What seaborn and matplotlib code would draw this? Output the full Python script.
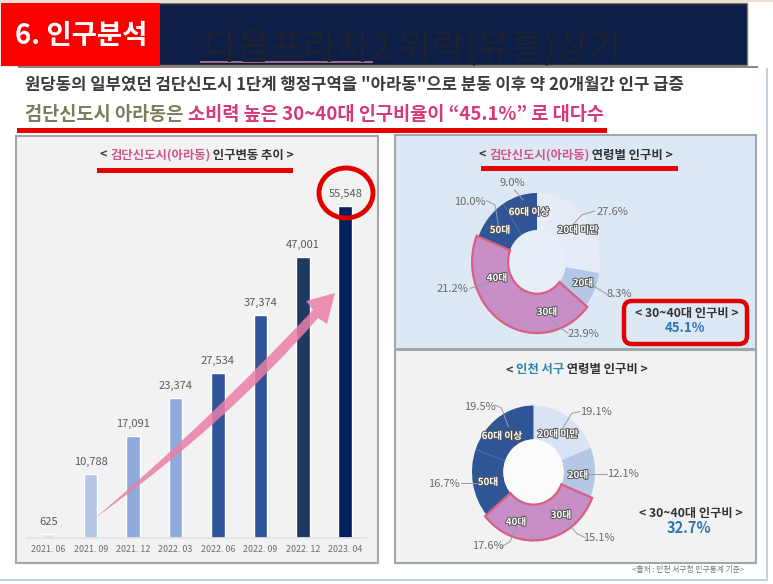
import matplotlib
matplotlib.use("Agg")
import matplotlib.pyplot as plt
import matplotlib.patheffects as pe
from matplotlib.patches import Rectangle, Ellipse, FancyBboxPatch, PathPatch, Wedge, Circle
from matplotlib.path import Path
import pandas as pd
import seaborn as sns

months = ["2021. 06", "2021. 09", "2021. 12", "2022. 03", "2022. 06", "2022. 09", "2022. 12", "2023. 04"]
population = [625, 10788, 17091, 23374, 27534, 37374, 47001, 55548]
bar_colors = ["#dbe5f3", "#b4c7e7", "#8faadc", "#8faadc", "#2f5597", "#2f5597", "#1f3864", "#002060"]

age_groups = ["20대 미만", "20대", "30대", "40대", "50대", "60대 이상"]
arado_share = [27.6, 8.3, 23.9, 21.2, 10.0, 9.0]
seogu_share = [19.1, 12.1, 15.1, 17.6, 16.7, 19.5]
arado_colors = ["#e5ecf6", "#b4c7e7", "#c690c6", "#c690c6", "#2f5597", "#2f5597"]
seogu_colors = ["#dae3f3", "#b4c7e7", "#c690c6", "#c690c6", "#2f5597", "#2f5597"]

sns.set_theme(style="white")
plt.rcParams["font.family"] = ["Noto Sans CJK KR", "DejaVu Sans"]
W, H = 773, 584
fig = plt.figure(figsize=(W / 100, H / 100), dpi=100, facecolor="white")


def box(x0, y0, x1, y1):
    return [x0 / W, 1 - y1 / H, (x1 - x0) / W, (y1 - y0) / H]


bg = fig.add_axes([0, 0, 1, 1], zorder=0)
top = fig.add_axes([0, 0, 1, 1], zorder=5)
for a in (bg, top):
    a.set_xlim(0, W)
    a.set_ylim(H, 0)
    a.axis("off")
    a.patch.set_alpha(0)


def rect(ax, x0, y0, x1, y1, **kw):
    ax.add_patch(Rectangle((x0, y0), x1 - x0, y1 - y0, **kw))


def colored(ax, x, y, parts, size, weight="bold", center=False):
    rend = fig.canvas.get_renderer()
    items = [ax.text(x, y, s, color=c, fontsize=size, fontweight=weight, va="center", ha="left")
             for s, c in parts]
    inv = ax.transData.inverted()
    widths = []
    for t in items:
        b = t.get_window_extent(rend)
        (a0, _), (a1, _) = inv.transform([(b.x0, b.y0), (b.x1, b.y1)])
        widths.append(a1 - a0)
    cx = x - sum(widths) / 2 if center else x
    for t, w in zip(items, widths):
        t.set_x(cx)
        cx += w


# page frame
rect(bg, 0, 0, 773, 2, color="#e9e1d2", lw=0)
rect(bg, 18, 66, 758, 68, color="#8a8a8a", lw=0)
rect(bg, 0, 579, 767, 581, color="#c3d0dd", lw=0)
rect(bg, 766, 68, 768, 581, color="#c3d0dd", lw=0)

# header
rect(bg, 1, 3, 747, 65, facecolor="#0d1f47", edgecolor="#8b7355", lw=1)
bg.text(413, 48, "다옴프라자2 위락(유흥)상가", color="#1c2230", fontsize=26, ha="center", va="center")
rect(bg, 200, 61, 373, 63, color="#a06a80", lw=0)
rect(bg, 1, 3, 160, 66, color="#fb0000", lw=0)
bg.text(81, 36, "6. 인구분석", color="white", fontsize=19.8, fontweight="bold", ha="center", va="center")

# headline
colored(bg, 25, 85, [("원당동의 일부였던 검단신도시 1단계 행정구역을 \"아라동\"으로 분동 이후 약 20개월간 인구 급증", "#3b3b3b")], 12.0)
colored(bg, 25, 115, [("검단신도시 아라동은 ", "#7d7d5c"), ("소비력 높은 30~40대 인구비율이 “45.1%” 로 대다수", "#d63a78")], 13.45)
rect(bg, 17, 128, 607, 133, color="#e60000", lw=0)

# panels
rect(bg, 16, 136, 378, 563, facecolor="#f2f2f2", edgecolor="#a6a6a6", lw=1.5)
rect(bg, 395, 135, 756, 349, facecolor="#dce8f4", edgecolor="#a0a8ad", lw=1.5)
rect(bg, 395, 350, 756, 563, facecolor="#f2f2f2", edgecolor="#a0a8ad", lw=1.5)

# bar chart
ax = fig.add_axes(box(27, 179.4, 366.4, 538), zorder=2)
ax.patch.set_alpha(0)
df = pd.DataFrame({"month": months, "population": population})
sns.barplot(data=df, x="month", y="population", hue="month", palette=bar_colors,
            legend=False, width=0.32, saturation=1, ax=ax)
ax.set_ylim(0, 60000)
ax.set_xlim(-0.5, 7.5)
ax.set_xlabel("")
ax.set_ylabel("")
ax.set_yticks([])
ax.tick_params(axis="x", length=0, pad=5, labelsize=6.4, labelcolor="#6e6e6e")
sns.despine(ax=ax, left=True)
ax.spines["bottom"].set_color("#e2e2e2")
for container in ax.containers:
    ax.bar_label(container, labels=[f"{v:,.0f}" for v in container.datavalues],
                 padding=5, fontsize=8, color="#5a5a5a")

colored(top, 197, 155, [("< ", "#333333"), ("검단신도시(아라동)", "#d0558a"), (" 인구변동 추이 >", "#333333")], 8.9, center=True)
rect(top, 97, 168, 293, 173, color="#e60000", lw=0)
top.add_patch(Ellipse((346, 193), 54, 50, fill=False, edgecolor="#e00000", lw=3.5))

# rising arrow
arrow_verts = [(95, 518), (225, 425), (318, 318), (327, 324), (335, 293), (306, 301), (313, 310),
               (205, 425), (95, 518), (95, 518)]
arrow_codes = [Path.MOVETO, Path.CURVE3, Path.CURVE3, Path.LINETO, Path.LINETO, Path.LINETO,
               Path.LINETO, Path.CURVE3, Path.CURVE3, Path.CLOSEPOLY]
top.add_patch(PathPatch(Path(arrow_verts, arrow_codes), facecolor="#ea7fa8", alpha=0.85, lw=0))


def donut(shares, colors, cx, cy, rx, ry, hole, hole_color):
    a = fig.add_axes(box(cx - rx * 1.1, cy - ry * 1.1, cx + rx * 1.1, cy + ry * 1.1), zorder=2)
    a.pie(shares, colors=colors, startangle=90, counterclock=False, radius=1,
          wedgeprops=dict(width=1 - hole, linewidth=0))
    a.set_aspect("auto")
    a.set_xlim(-1.1, 1.1)
    a.set_ylim(-1.1, 1.1)
    a.add_patch(Circle((0, 0), hole, facecolor=hole_color, lw=0, zorder=1))
    total = sum(shares)
    start = 90 - 360 * sum(shares[:2]) / total
    end = 90 - 360 * sum(shares[:4]) / total
    a.add_patch(Wedge((0, 0), 1.03, end, start, width=1.03 - hole, facecolor="#c78ec7",
                      edgecolor="#d9607f", lw=1.6, zorder=5))
    return a


donut(arado_share, arado_colors, 537, 262, 63, 69, 0.46, "#e6eff8")
donut(seogu_share, seogu_colors, 533.5, 472, 61.5, 66.5, 0.49, "#fbfbfb")


def zoom_pts(ox, oy, pts):
    return [(ox + x / 3, oy + y / 3) for x, y in pts]


def leader(ox, oy, pts, color="#9a9a9a"):
    p = zoom_pts(ox, oy, pts)
    top.plot([q[0] for q in p], [q[1] for q in p], color=color, lw=0.7, zorder=2)


for pts in [[(358, 165), (385, 195)], [(275, 197), (300, 210), (312, 280)],
            [(600, 228), (560, 240), (520, 285)], [(637, 478), (590, 450)],
            [(520, 595), (490, 575), (465, 550)], [(225, 460), (290, 440)]]:
    leader(395, 135, pts)
for pts in [[(300, 165), (320, 175), (340, 230)], [(555, 185), (530, 190), (500, 240)],
            [(635, 372), (570, 372)], [(570, 563), (545, 550), (520, 520)],
            [(320, 590), (345, 575), (365, 530)], [(197, 400), (270, 400)]]:
    leader(395, 350, pts)

arado_value_pos = [(612, 212), (619, 294), (583, 334), (452, 289), (470, 202), (512, 182.7)]
arado_name_pos = [(578, 230), (583, 283), (547, 312), (497, 278), (500, 230), (529, 212)]
seogu_value_pos = [(596, 412), (623, 474), (599, 538), (488, 546), (444, 484), (480, 407)]
seogu_name_pos = [(558, 434), (578, 475), (561, 515), (516, 522), (488, 482), (502, 436)]

for shares, val_pos, name_pos in [(arado_share, arado_value_pos, arado_name_pos),
                                  (seogu_share, seogu_value_pos, seogu_name_pos)]:
    for v, name, vp, np_ in zip(shares, age_groups, val_pos, name_pos):
        top.text(vp[0], vp[1], f"{v:.1f}%", fontsize=8, color="#6a6a6a", ha="center", va="center",
                 fontweight="medium")
        top.text(np_[0], np_[1], name, fontsize=7, color="white", ha="center", va="center", fontweight="bold",
                 path_effects=[pe.withStroke(linewidth=1.4, foreground="#555555")])

# right panel titles
colored(top, 576, 155, [("< ", "#333333"), ("검단신도시(아라동)", "#d0558a"), (" 연령별 인구비 >", "#333333")], 8.9, center=True)
rect(top, 481, 166, 678, 171, color="#e60000", lw=0)
colored(top, 577, 370, [("< ", "#333333"), ("인천 서구", "#2e86ab"), (" 연령별 인구비 >", "#333333")], 8.9, center=True)

top.add_patch(FancyBboxPatch((624, 301), 123, 43, boxstyle="round,pad=0,rounding_size=8",
                             fill=False, edgecolor="#e00000", lw=3.2))
top.text(687, 313, "< 30~40대 인구비 >", fontsize=8.8, fontweight="bold", color="#333333", ha="center", va="center")
top.text(685, 328, "45.1%", fontsize=9.5, fontweight="bold", color="#2e75b6", ha="center", va="center")
top.text(691, 513, "< 30~40대 인구비 >", fontsize=8.8, fontweight="bold", color="#333333", ha="center", va="center")
top.text(689, 528, "32.7%", fontsize=10.5, fontweight="bold", color="#2e75b6", ha="center", va="center")
top.text(688, 570, "<출처 : 인천 서구청 인구통계 기준>", fontsize=5.6, color="#777777", ha="center", va="center")

fig.savefig("out.png", dpi=100)
